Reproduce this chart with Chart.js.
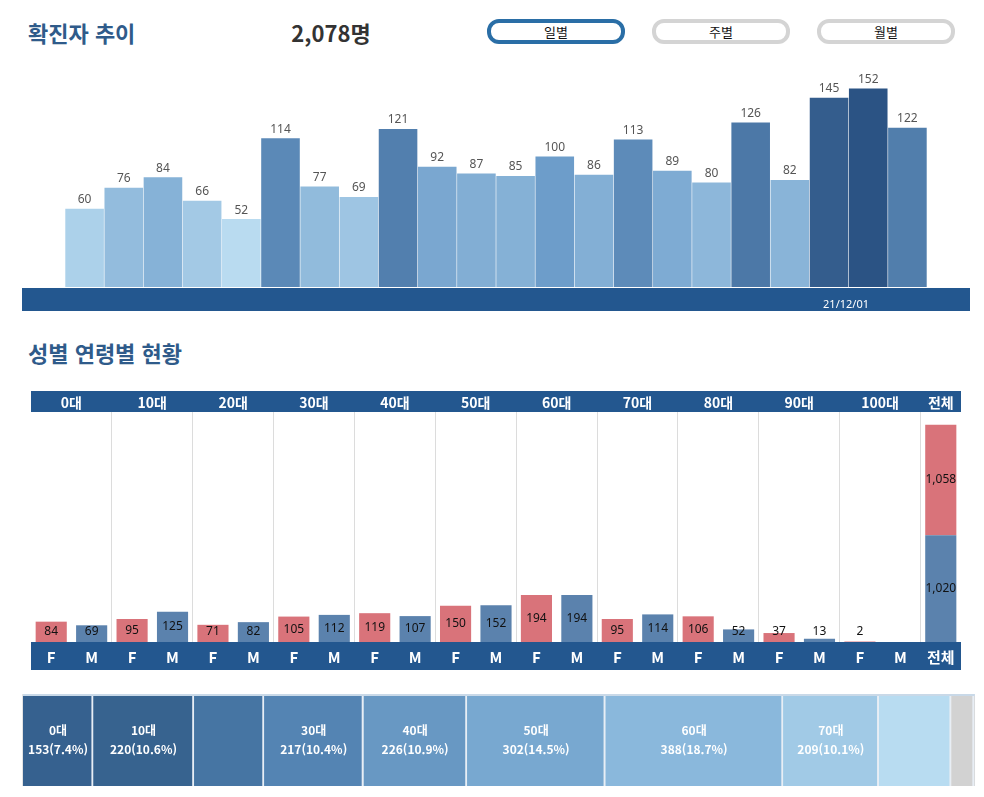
<!DOCTYPE html>
<html lang="ko">
<head>
<meta charset="utf-8">
<title>확진자 추이</title>
<script src="https://cdn.jsdelivr.net/npm/chart.js@4.4.0/dist/chart.umd.min.js"></script>
<style>
body { margin: 0; background: #fff; width: 984px; height: 797px; position: relative; overflow: hidden;
       font-family: 'Noto Sans CJK KR', 'Noto Sans', sans-serif; }
.title { position: absolute; left: 28px; color: #2f5b8a; font-weight: bold; font-size: 22px; line-height: 26px; }
#total { position: absolute; left: 271px; top: 20px; width: 120px; text-align: center; color: #333;
         font-weight: bold; font-size: 22px; line-height: 24px; }
.btn { position: absolute; top: 19px; width: 138px; height: 25px; box-sizing: border-box; border: 4px solid #d4d4d4;
       border-radius: 12px; text-align: center; font-size: 13px; line-height: 17px; color: #111; background: #fff; }
.btn.on { border-color: #2a6ea6; }
.box { position: absolute; }
</style>
</head>
<body>
<div class="title" style="top:19px">확진자 추이</div>
<div id="total"></div>
<div class="btn on" style="left:487px">일별</div>
<div class="btn" style="left:652px">주별</div>
<div class="btn" style="left:817px">월별</div>

<div class="box" style="left:22px; top:55px; width:948px; height:256px"><canvas id="dailyChart"></canvas></div>

<div class="title" style="top:339px">성별 연령별 현황</div>

<div class="box" style="left:31px; top:391px; width:930px; height:279px"><canvas id="genderAgeChart"></canvas></div>

<div class="box" style="left:22px; top:694px; width:962px; height:92px; border-left:1px solid #e4e4e4"><canvas id="shareChart"></canvas></div>

<script>
// daily confirmed cases
var days = ['21/11/12', '21/11/13', '21/11/14', '21/11/15', '21/11/16', '21/11/17', '21/11/18', '21/11/19',
            '21/11/20', '21/11/21', '21/11/22', '21/11/23', '21/11/24', '21/11/25', '21/11/26', '21/11/27',
            '21/11/28', '21/11/29', '21/11/30', '21/12/01', '21/12/02', '21/12/03'];
var dailyCases = [60, 76, 84, 66, 52, 114, 77, 69, 121, 92, 87, 85, 100, 86, 113, 89, 80, 126, 82, 145, 152, 122];
var shownDay = '21/12/01';

// gender by age group
var ageGroups = ['0대', '10대', '20대', '30대', '40대', '50대', '60대', '70대', '80대', '90대', '100대'];
var femaleCounts = [84, 95, 71, 105, 119, 150, 194, 95, 106, 37, 2];
var maleCounts = [69, 125, 82, 112, 107, 152, 194, 114, 52, 13, 0];
var totalLabel = '전체';

// which age blocks get a caption in the share strip
var shareLabelShown = [true, true, false, true, true, true, true, true, false, false, false];

var shareColors = ['#36618f', '#37638f', '#4675a3', '#5484b3', '#6898c3', '#78a8d0', '#8ab8dc', '#a1cae6',
                   '#b8dcf1', '#d2d2d2', '#d2d2d2'];

var totalCases = dailyCases.reduce(function (a, b) { return a + b; }, 0);
document.getElementById('total').textContent = totalCases.toLocaleString('en-US') + '명';

function mix(a, b, t) {
    var ca = [parseInt(a.substr(1, 2), 16), parseInt(a.substr(3, 2), 16), parseInt(a.substr(5, 2), 16)];
    var cb = [parseInt(b.substr(1, 2), 16), parseInt(b.substr(3, 2), 16), parseInt(b.substr(5, 2), 16)];
    return 'rgb(' + ca.map(function (v, i) { return Math.round(v + (cb[i] - v) * t); }).join(',') + ')';
}
function dailyColor(v) {
    if (v <= 100) return mix('#bcdef2', '#6d9dca', Math.max(0, (v - 50) / 50));
    return mix('#6d9dca', '#2b5384', Math.min(1, (v - 100) / 52));
}

var blue = '#23578f';

var dailyBand = {
    id: 'dailyBand',
    beforeDraw: function (chart) {
        var c = chart.ctx, a = chart.chartArea;
        c.save();
        c.fillStyle = blue;
        c.fillRect(0, a.bottom + 1, chart.width, chart.height - a.bottom - 1);
        c.restore();
    },
    afterDatasetsDraw: function (chart) {
        var c = chart.ctx;
        c.save();
        c.font = '12px "Noto Sans", sans-serif';
        c.fillStyle = '#555';
        c.textAlign = 'center';
        c.textBaseline = 'bottom';
        chart.getDatasetMeta(0).data.forEach(function (el, i) {
            c.fillText(dailyCases[i], el.x, el.y - 3);
        });
        c.restore();
    }
};

new Chart(document.getElementById('dailyChart').getContext('2d'), {
    type: 'bar',
    data: {
        labels: days,
        datasets: [{
            data: dailyCases,
            backgroundColor: dailyCases.map(dailyColor),
            barPercentage: 0.985,
            categoryPercentage: 1
        }]
    },
    options: {
        responsive: true,
        maintainAspectRatio: false,
        animation: false,
        layout: { padding: { top: 10, left: 43, right: 43 } },
        plugins: { legend: { display: false }, tooltip: { enabled: false } },
        scales: {
            x: {
                grid: { display: false },
                border: { display: false },
                ticks: {
                    autoSkip: false, maxRotation: 0, padding: 3, labelOffset: 17,
                    color: '#fff', font: { size: 11, family: '"Noto Sans", sans-serif' },
                    callback: function (v, i) { return days[i] === shownDay ? days[i] : ''; }
                },
                afterFit: function (s) { s.height = 24; }
            },
            y: { display: false, min: 0, max: 170 }
        }
    },
    plugins: [dailyBand]
});

// interleave F / M per age group, then the total column
var sexLabels = [], sexValues = [], sexColors = [];
ageGroups.forEach(function (g, i) {
    sexLabels.push('F', 'M');
    sexValues.push(femaleCounts[i], maleCounts[i]);
    sexColors.push('#d9737a', '#5b82ad');
});
sexLabels.push(totalLabel);
sexValues.push(null);
var femaleTotal = femaleCounts.reduce(function (a, b) { return a + b; }, 0);
var maleTotal = maleCounts.reduce(function (a, b) { return a + b; }, 0);
var maleTotalData = sexLabels.map(function (l) { return l === totalLabel ? maleTotal : null; });
var femaleTotalData = sexLabels.map(function (l) { return l === totalLabel ? femaleTotal : null; });

var genderBands = {
    id: 'genderBands',
    beforeDraw: function (chart) {
        var c = chart.ctx, a = chart.chartArea, x = chart.scales.x;
        c.save();
        c.fillStyle = blue;
        c.fillRect(0, 0, chart.width, a.top);
        c.fillRect(0, a.bottom, chart.width, chart.height - a.bottom);
        c.fillStyle = '#fff';
        c.font = 'bold 14px "Noto Sans CJK KR", sans-serif';
        c.textAlign = 'center';
        c.textBaseline = 'middle';
        ageGroups.forEach(function (g, i) {
            var cx = (x.getPixelForValue(2 * i) + x.getPixelForValue(2 * i + 1)) / 2;
            c.fillText(g, cx, a.top / 2 + 1);
        });
        c.fillText(totalLabel, x.getPixelForValue(sexLabels.length - 1), a.top / 2 + 1);
        c.restore();
    },
    afterDatasetsDraw: function (chart) {
        var c = chart.ctx;
        c.save();
        c.font = '12px "Noto Sans", sans-serif';
        c.fillStyle = '#111';
        c.textAlign = 'center';
        c.textBaseline = 'middle';
        chart.data.datasets.forEach(function (ds, d) {
            chart.getDatasetMeta(d).data.forEach(function (el, i) {
                var v = ds.data[i];
                if (!v) return;
                var y = (el.y + el.base) / 2;
                if (d === 0) y = Math.min(y, el.base - 10);
                c.fillText(v.toLocaleString('en-US'), el.x, y);
            });
        });
        c.restore();
    }
};

new Chart(document.getElementById('genderAgeChart').getContext('2d'), {
    type: 'bar',
    data: {
        labels: sexLabels,
        datasets: [
            { data: sexValues, backgroundColor: sexColors, yAxisID: 'y' },
            { data: maleTotalData, backgroundColor: '#5b82ad', yAxisID: 'y2' },
            { data: femaleTotalData, backgroundColor: '#d9737a', yAxisID: 'y2' }
        ]
    },
    options: {
        responsive: true,
        maintainAspectRatio: false,
        animation: false,
        datasets: { bar: { barPercentage: 0.77, categoryPercentage: 1 } },
        layout: { padding: { top: 21 } },
        plugins: { legend: { display: false }, tooltip: { enabled: false } },
        scales: {
            x: {
                stacked: true,
                grid: {
                    drawTicks: false,
                    color: function (c) { return (c.index === undefined || c.index % 2 === 0) ? '#dcdcdc' : 'rgba(0,0,0,0)'; }
                },
                border: { display: false },
                ticks: { autoSkip: false, maxRotation: 0, padding: 6, color: '#fff',
                         font: { size: 15, weight: 'bold', family: '"Noto Sans CJK KR", sans-serif' } },
                afterFit: function (s) { s.height = 28; }
            },
            y: { display: false, stacked: true, min: 0, max: 950 },
            y2: { display: false, stacked: true, min: 0, max: 2200 }
        }
    },
    plugins: [genderBands]
});

// share of each age group
var ageTotals = ageGroups.map(function (g, i) { return femaleCounts[i] + maleCounts[i]; });
var ageSum = ageTotals.reduce(function (a, b) { return a + b; }, 0);

var shareLabels = {
    id: 'shareLabels',
    beforeDraw: function (chart) {
        var c = chart.ctx;
        c.save();
        c.fillStyle = '#c9d9e8';
        c.fillRect(0, 0, chart.scales.x.getPixelForValue(ageSum), 2);
        c.restore();
    },
    afterDatasetsDraw: function (chart) {
        var c = chart.ctx;
        c.save();
        c.fillStyle = '#fff';
        c.font = 'bold 12px "Noto Sans CJK KR", sans-serif';
        c.textAlign = 'center';
        c.textBaseline = 'middle';
        ageGroups.forEach(function (g, i) {
            if (!shareLabelShown[i]) return;
            var el = chart.getDatasetMeta(i).data[0];
            var cx = (el.x + el.base) / 2;
            var pct = (ageTotals[i] / ageSum * 100).toFixed(1);
            c.fillText(g, cx, 36);
            c.fillText(ageTotals[i] + '(' + pct + '%)', cx, 55);
        });
        c.restore();
    }
};

new Chart(document.getElementById('shareChart').getContext('2d'), {
    type: 'bar',
    data: {
        labels: [''],
        datasets: ageGroups.map(function (g, i) {
            return {
                label: g,
                data: [ageTotals[i]],
                backgroundColor: shareColors[i],
                borderColor: '#e8eef5',
                borderWidth: { right: 2, left: 0, top: 0, bottom: 0 },
                borderSkipped: false,
                barPercentage: 1,
                categoryPercentage: 1
            };
        })
    },
    options: {
        indexAxis: 'y',
        responsive: true,
        maintainAspectRatio: false,
        animation: false,
        layout: { padding: { top: 2 } },
        plugins: { legend: { display: false }, tooltip: { enabled: false } },
        scales: {
            x: { display: false, stacked: true, min: 0, max: 2100 },
            y: { display: false, stacked: true }
        }
    },
    plugins: [shareLabels]
});
</script>
</body>
</html>
